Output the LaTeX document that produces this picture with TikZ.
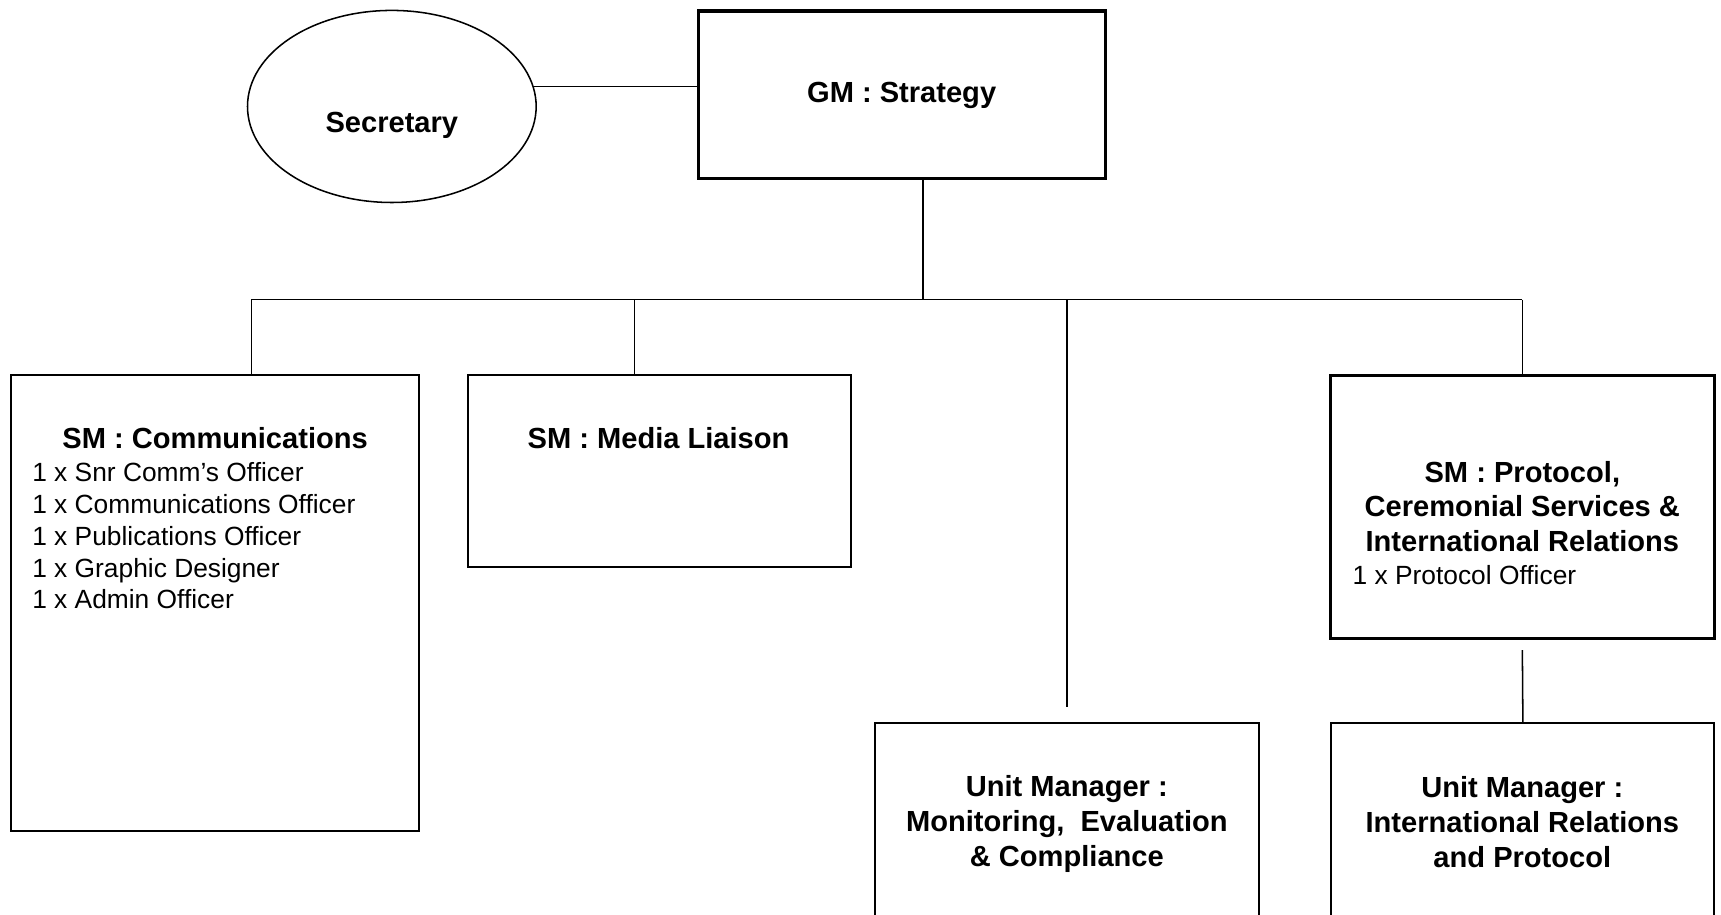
\documentclass[tikz,border=0pt]{standalone}
\usepackage{fontspec}
\setmainfont{Liberation Sans}
\usetikzlibrary{positioning,shapes.geometric,calc}

\begin{document}
\begin{tikzpicture}[x=0.5pt, y=-0.5pt,
					unitbox/.style={rectangle, draw=black, line width=0.9pt, inner sep=0pt},
					headbox/.style={unitbox, line width=1.4pt},
					oval/.style={ellipse, draw=black, line width=0.7pt, inner sep=0pt},
					heading/.style={align=center, inner sep=0pt, font=\bfseries\fontsize{13.25}{15.75}\selectfont},
					staff/.style={align=left, inner sep=0pt, font=\fontsize{12}{14.5}\selectfont},
					link/.style={line width=0.7pt}
				]
				\useasboundingbox (0,0) rectangle (1568,833);
				\clip (0,0) rectangle (1568,833);
				% top level
				\node[headbox, heading, minimum width=185.5pt, minimum height=76.5pt] (gm) at (821.5,86.5) {GM : Strategy};
				\node[oval, minimum width=131.5pt, minimum height=87.5pt] (sec) at (357,97) {};
				\node[heading] (sectext) at (357,114) {Secretary};
				% senior managers
				\node[unitbox, minimum width=186pt, minimum height=207.5pt] (comms) at (196,549.5) {};
				\node[heading] (commstitle) at (196,399) {SM : Communications};
				\node[staff, anchor=north west] (commsstaff) at (29,421) {1 x Snr Comm’s Officer\\1 x Communications Officer\\1 x Publications Officer\\1 x Graphic Designer\\1 x Admin Officer};
				\node[unitbox, minimum width=174.5pt, minimum height=87.5pt] (media) at (600.5,429.5) {};
				\node[heading] (mediatitle) at (600,399) {SM : Media Liaison};
				\node[headbox, minimum width=175pt, minimum height=120pt] (prot) at (1387,462) {};
				\node[heading] (prottitle) at (1387,461.5) {SM : Protocol,\\Ceremonial Services \&\\International Relations};
				\node[staff, anchor=west] (protstaff) at (1232,524) {1 x Protocol Officer};
				% unit managers
				\node[unitbox, minimum width=175pt, minimum height=105.5pt] (monitor) at (972,764.5) {};
				\node[heading, font=\bfseries\fontsize{13.25}{16}\selectfont] (monitortext) at (972,751) {Unit Manager :\\Monitoring,~ Evaluation\\\& Compliance};
				\node[unitbox, minimum width=174.5pt, minimum height=105.5pt] (intrel) at (1387.5,764.5) {};
				\node[heading, font=\bfseries\fontsize{13.25}{16}\selectfont] (intreltext) at (1387,749) {Unit Manager :\\International Relations\\and Protocol};
				% connectors
				\coordinate (busL) at (229,273);
				\coordinate (busM) at (578,273);
				\begin{scope}[link]
				\draw (sec.8) -- (sec.8 -| gm.west);
				\draw ($(gm.south)+(19.5,0)$) -- (busL -| {$(gm.south)+(19.5,0)$});
				\draw (busL) -- (busL -| prot.north);
				\draw (busL) -- (busL |- comms.north);
				\draw (busM) -- (busM |- media.north);
				\draw (monitor.north |- busL) -- ($(monitor.north)+(0,-14)$);
				\draw (prot.north |- busL) -- (prot.north);
				\draw ($(prot.south)+(0,9)$) -- (intrel.north);
				\end{scope}
				\end{tikzpicture}
\end{document}
